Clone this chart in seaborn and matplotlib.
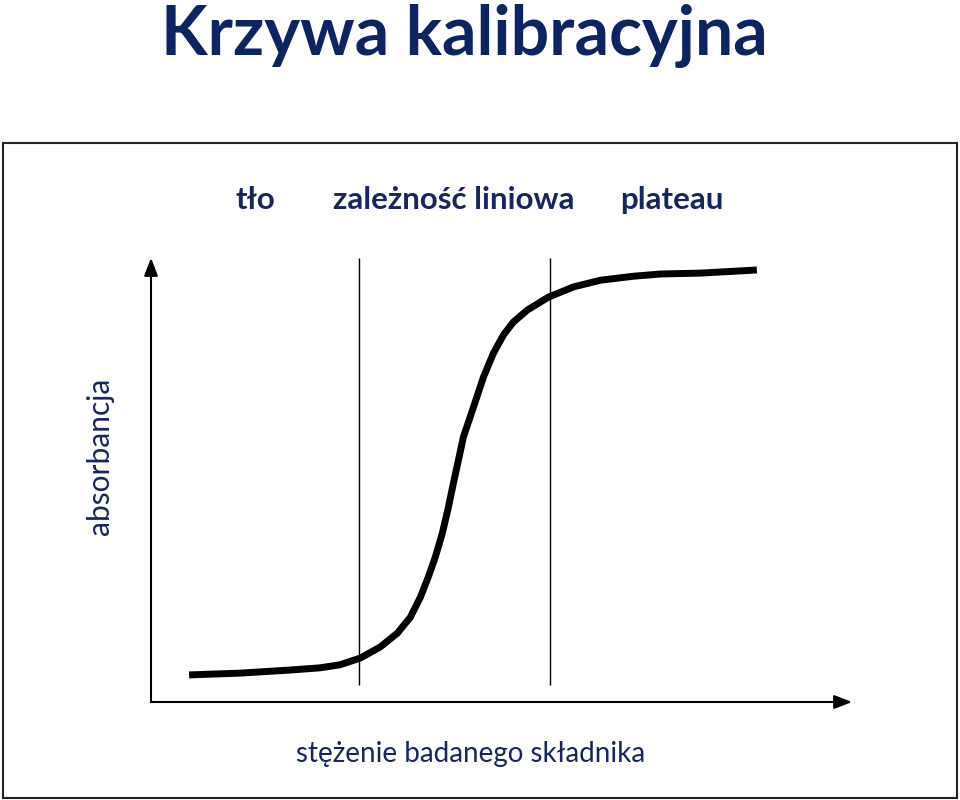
import numpy as np
import pandas as pd
import seaborn as sns
import matplotlib.pyplot as plt
from matplotlib.patches import Rectangle

# Curve (concentration vs absorbance, arbitrary units)
conc = [0.543, 1.271, 1.986, 2.414, 2.700, 2.986, 3.271, 3.514, 3.700, 3.843,
        3.957, 4.057, 4.157, 4.243, 4.314, 4.386, 4.457, 4.600, 4.743, 4.886,
        5.029, 5.171, 5.371, 5.671, 6.029, 6.414, 6.886, 7.271, 7.843, 8.643]
absorb = [0.061, 0.065, 0.072, 0.077, 0.084, 0.099, 0.124, 0.155, 0.191, 0.236,
          0.282, 0.327, 0.381, 0.439, 0.493, 0.545, 0.597, 0.664, 0.732, 0.786,
          0.827, 0.856, 0.883, 0.912, 0.935, 0.950, 0.959, 0.964, 0.966, 0.973]

# region borders
borders = [2.97, 5.69]
region_labels = ["tło", "zależność liniowa", "plateau"]

df = pd.DataFrame({"conc": conc, "absorb": absorb})

sns.set_theme(style="white")
plt.rcParams['font.family'] = ['Lato', 'DejaVu Sans']

navy = "#0d2463"
text_navy = "#17265c"

fig = plt.figure(figsize=(9.6, 8), dpi=100)

# outer frame
fig.patches.append(Rectangle((3 / 960, 2 / 800), 954 / 960, 655 / 800,
                             transform=fig.transFigure, fill=False,
                             edgecolor="#222222", linewidth=1.5))

ax = fig.add_axes([151 / 960, 98 / 800, 701 / 960, 444 / 800])
ax.set_xlim(0, 10)
ax.set_ylim(0, 1)
ax.set_xticks([])
ax.set_yticks([])
for s in ax.spines.values():
    s.set_visible(False)
ax.patch.set_alpha(0)

# axes with arrows
arrow = dict(arrowstyle="-|>,head_length=0.9,head_width=0.35", color="black",
             linewidth=1.5, shrinkA=0, shrinkB=0)
ax.annotate("", xy=(0, 1), xytext=(0, 0), arrowprops=arrow, annotation_clip=False)
ax.annotate("", xy=(10, 0), xytext=(0, 0), arrowprops=arrow, annotation_clip=False)

# region borders
ax.vlines(borders, 0.038, 1.0, color="black", linewidth=1.0)

# the curve
sns.lineplot(data=df, x="conc", y="absorb", ax=ax, color="black",
             linewidth=5, solid_capstyle="butt", solid_joinstyle="round")
ax.set_xlabel("")
ax.set_ylabel("")

# title
fig.text(464 / 960, 1 - 36 / 800, "Krzywa kalibracyjna", ha="center", va="center",
         fontsize=49, fontweight="bold", color=navy)

# region labels
for xp, lab in zip([255, 454, 672], region_labels):
    fig.text(xp / 960, 1 - 200 / 800, lab, ha="center", va="center",
             fontsize=22.5, fontweight="bold", color=text_navy)

fig.text(100 / 960, 1 - 456 / 800, "absorbancja", rotation=90, ha="center",
         va="center", fontsize=21.5, color=text_navy)
fig.text(471 / 960, 1 - 754 / 800, "stężenie badanego składnika", ha="center",
         va="center", fontsize=20, color=text_navy)

fig.savefig("out.png", dpi=100)
